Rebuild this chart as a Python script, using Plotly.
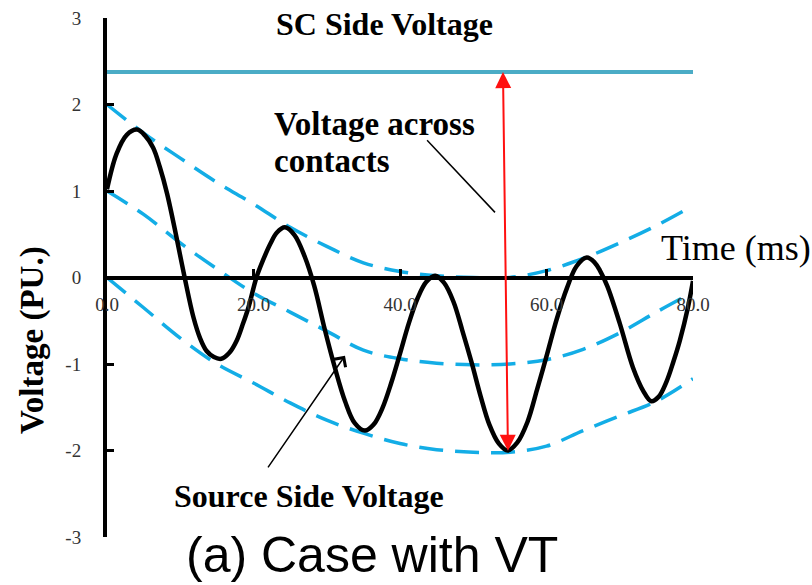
import plotly.graph_objects as go

# ---- data ----
time_src = [0, 1.3, 2.7, 4.1, 5.2, 6.3, 7.2, 8.2, 9.5, 10.6, 11.8, 12.7, 13.6, 14.6, 15.6,
            16.7, 17.7, 18.5, 19.3, 20.4, 21.3, 22.3, 23.2, 24.3, 25.6, 27.0, 28.3, 29.7,
            31.1, 32.5, 33.8, 35.2, 36.4, 37.6, 38.8, 40.0, 41.2, 42.4, 43.6, 44.8, 46.0,
            47.3, 48.5, 49.8, 51.0, 52.2, 53.5, 54.7, 56.0, 57.4, 58.7, 60.1, 61.4, 62.8,
            64.1, 65.5, 66.6, 67.3, 68.3, 70.0, 71.8, 73.2, 74.3, 75.3, 76.4, 77.3, 78.2,
            79.3, 80.0]
source_v = [1.02, 1.43, 1.65, 1.71, 1.64, 1.50, 1.28, 0.97, 0.46, 0.00, -0.46, -0.70, -0.85,
            -0.92, -0.94, -0.87, -0.73, -0.55, -0.35, 0.00, 0.20, 0.39, 0.52, 0.58, 0.49,
            0.24, -0.10, -0.59, -1.04, -1.43, -1.68, -1.77, -1.70, -1.51, -1.22, -0.88,
            -0.53, -0.24, -0.05, 0.02, -0.06, -0.28, -0.61, -0.99, -1.37, -1.70, -1.92,
            -2.00, -1.91, -1.67, -1.30, -0.88, -0.48, -0.12, 0.13, 0.23, 0.17, 0.08, -0.10,
            -0.53, -1.04, -1.31, -1.43, -1.38, -1.20, -0.98, -0.73, -0.35, -0.04]

time_env = [0, 5, 10, 15, 20, 25, 30, 35, 40, 45, 50, 55, 60, 65, 70, 75, 80]
env_upper = [2.00, 1.67, 1.38, 1.10, 0.85, 0.58, 0.36, 0.17, 0.07, 0.02, 0.00, 0.00, 0.08,
             0.22, 0.40, 0.60, 0.83]
env_mid = [1.00, 0.73, 0.40, 0.10, -0.18, -0.40, -0.62, -0.84, -0.94, -0.99, -1.01, -1.00,
           -0.95, -0.83, -0.64, -0.40, -0.17]
env_lower = [0.00, -0.35, -0.70, -1.00, -1.22, -1.45, -1.65, -1.80, -1.92, -1.99, -2.02,
             -2.02, -1.95, -1.77, -1.60, -1.43, -1.17]

time_sc = [0, 80]
sc_v = [2.375, 2.375]

x_ticks = [0, 20, 40, 60, 80]
x_tick_labels = ["0.0", "20.0", "40.0", "60.0", "80.0"]
y_ticks = [-3, -2, -1, 0, 1, 2, 3]
y_tick_labels = ["-3", "-2", "-1", "0", "1", "2", "3"]

# ---- styles ----
SERIF = "Liberation Serif, Times New Roman, serif"
DASH_COLOR = "#13ADE6"
SC_COLOR = "#4BACC6"

fig = go.Figure()

fig.add_trace(go.Scatter(x=time_sc, y=sc_v, mode="lines",
                         line=dict(color=SC_COLOR, width=4), showlegend=False))
for env in (env_upper, env_mid, env_lower):
    fig.add_trace(go.Scatter(x=time_env, y=env, mode="lines",
                             line=dict(color=DASH_COLOR, width=3.5, dash="24px,12px", shape="spline"),
                             showlegend=False))
fig.add_trace(go.Scatter(x=time_src, y=source_v, mode="lines",
                         line=dict(color="black", width=4.5, shape="spline", smoothing=1.0),
                         showlegend=False))

# red double arrow: voltage across contacts
fig.add_annotation(x=54.06, y=2.375, ax=54.74, ay=-2.02, xref="x", yref="y",
                   axref="x", ayref="y", text="", showarrow=True,
                   arrowhead=2, startarrowhead=2, arrowside="end+start",
                   arrowsize=1.6, startarrowsize=1.6, arrowwidth=2, arrowcolor="#FF1010")

# pointer for "Voltage across contacts"
fig.add_shape(type="line", x0=43.7, y0=1.587, x1=52.97, y1=0.753, xref="x", yref="y",
              line=dict(color="black", width=1.5))

# arrow for "Source Side Voltage"
fig.add_annotation(x=32.49, y=-0.904, ax=21.84, ay=-2.213, xref="x", yref="y",
                   axref="x", ayref="y", text="", showarrow=True,
                   arrowhead=4, arrowsize=1.8, arrowwidth=1.5, arrowcolor="black")

fig.add_annotation(x=37.95, y=2.93, text="<b>SC Side Voltage</b>", showarrow=False,
                   xanchor="center", yanchor="middle",
                   font=dict(family=SERIF, size=32, color="black"))
fig.add_annotation(x=22.5, y=1.773, text="<b>Voltage across</b>", showarrow=False,
                   xanchor="left", yanchor="middle",
                   font=dict(family=SERIF, size=33, color="black"))
fig.add_annotation(x=22.5, y=1.344, text="<b>contacts</b>", showarrow=False,
                   xanchor="left", yanchor="middle",
                   font=dict(family=SERIF, size=33, color="black"))
fig.add_annotation(x=8.87, y=-2.526, text="<b>Source Side Voltage</b>", showarrow=False,
                   xanchor="left", yanchor="middle",
                   font=dict(family=SERIF, size=32, color="black"))
fig.add_annotation(x=75.3, y=0.336, text="Time (ms)", showarrow=False,
                   xanchor="left", yanchor="middle",
                   font=dict(family=SERIF, size=36, color="black"))
fig.add_annotation(x=-0.126, y=0.38, xref="paper", yref="paper", text="<b>Voltage (PU.)</b>",
                   showarrow=False, textangle=-90, xanchor="center", yanchor="middle",
                   font=dict(family=SERIF, size=33, color="black"))
fig.add_annotation(x=0.452, y=-0.034, xref="paper", yref="paper", text="(a) Case with VT",
                   showarrow=False, xanchor="center", yanchor="middle",
                   font=dict(family="Liberation Sans, Arial, sans-serif", size=50, color="black"))

fig.update_layout(
    width=812, height=585,
    margin=dict(l=107, r=119, t=18, b=48),
    paper_bgcolor="white", plot_bgcolor="white",
    showlegend=False,
    xaxis=dict(range=[0, 80], anchor="free", position=0.5, showgrid=False, zeroline=False,
               automargin=False,
               showline=True, linecolor="black", linewidth=4,
               ticks="inside", ticklen=7, tickwidth=3, tickcolor="black",
               tickvals=x_ticks, ticktext=x_tick_labels, ticklabelstandoff=9,
               tickfont=dict(family=SERIF, size=19, color="#333333")),
    yaxis=dict(range=[-3, 3], showgrid=False, zeroline=False, automargin=False,
               showline=True, linecolor="black", linewidth=4,
               ticks="inside", ticklen=7, tickwidth=3, tickcolor="black",
               tickvals=y_ticks, ticktext=y_tick_labels, ticklabelstandoff=18,
               tickfont=dict(family=SERIF, size=19, color="#333333")),
)

fig.write_html("out.html", config={"displayModeBar": False},
               post_script="document.body.style.margin='0px';")
